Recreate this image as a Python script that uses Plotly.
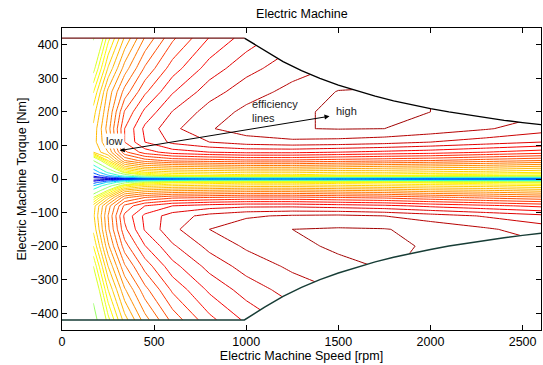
import plotly.graph_objects as go

# ---- data ----
SPEED_RPM = [170, 250, 340, 450, 600, 800, 1000, 1250, 1500, 1750, 2000, 2300, 2600]

TORQUE_MOTOR = [0, 4, 10, 20, 35, 55, 80, 110, 150, 200, 260, 330, 420]
EFF_MOTOR = [
    [0.000, 0.000, 0.000, 0.000, 0.000, 0.000, 0.000, 0.000, 0.000, 0.000, 0.000, 0.000, 0.000],
    [0.050, 0.120, 0.250, 0.330, 0.380, 0.400, 0.410, 0.410, 0.400, 0.390, 0.380, 0.370, 0.360],
    [0.120, 0.280, 0.450, 0.550, 0.590, 0.600, 0.610, 0.610, 0.600, 0.600, 0.590, 0.580, 0.570],
    [0.220, 0.420, 0.580, 0.620, 0.635, 0.640, 0.645, 0.645, 0.640, 0.640, 0.635, 0.630, 0.620],
    [0.350, 0.530, 0.650, 0.680, 0.690, 0.695, 0.700, 0.700, 0.695, 0.690, 0.685, 0.680, 0.670],
    [0.500, 0.620, 0.720, 0.750, 0.765, 0.770, 0.775, 0.775, 0.770, 0.765, 0.760, 0.750, 0.740],
    [0.640, 0.680, 0.775, 0.810, 0.830, 0.840, 0.845, 0.845, 0.840, 0.835, 0.830, 0.820, 0.810],
    [0.650, 0.700, 0.800, 0.840, 0.865, 0.880, 0.890, 0.895, 0.893, 0.888, 0.880, 0.870, 0.860],
    [0.645, 0.710, 0.800, 0.845, 0.875, 0.898, 0.911, 0.919, 0.921, 0.920, 0.913, 0.902, 0.889],
    [0.630, 0.700, 0.782, 0.825, 0.861, 0.889, 0.905, 0.917, 0.923, 0.923, 0.920, 0.912, 0.904],
    [0.598, 0.686, 0.748, 0.796, 0.838, 0.871, 0.891, 0.906, 0.921, 0.922, 0.920, 0.916, 0.911],
    [0.550, 0.642, 0.709, 0.763, 0.810, 0.849, 0.873, 0.892, 0.903, 0.910, 0.913, 0.914, 0.912],
    [0.496, 0.592, 0.663, 0.722, 0.776, 0.821, 0.849, 0.873, 0.888, 0.898, 0.904, 0.908, 0.909],
]

TORQUE_GENERATOR = [-4, -10, -20, -35, -55, -80, -110, -150, -200, -260, -330, -420]
EFF_GENERATOR = [
    [0.060, 0.140, 0.270, 0.340, 0.385, 0.405, 0.410, 0.410, 0.400, 0.390, 0.380, 0.370, 0.360],
    [0.150, 0.320, 0.480, 0.560, 0.595, 0.605, 0.610, 0.610, 0.605, 0.600, 0.590, 0.580, 0.570],
    [0.300, 0.470, 0.600, 0.630, 0.640, 0.645, 0.650, 0.650, 0.645, 0.640, 0.635, 0.630, 0.620],
    [0.440, 0.570, 0.670, 0.690, 0.700, 0.705, 0.710, 0.710, 0.705, 0.700, 0.690, 0.685, 0.675],
    [0.560, 0.650, 0.735, 0.760, 0.775, 0.780, 0.785, 0.785, 0.780, 0.775, 0.765, 0.755, 0.745],
    [0.630, 0.710, 0.785, 0.820, 0.840, 0.850, 0.855, 0.855, 0.850, 0.845, 0.835, 0.825, 0.815],
    [0.635, 0.720, 0.805, 0.845, 0.870, 0.887, 0.897, 0.903, 0.905, 0.900, 0.890, 0.878, 0.866],
    [0.625, 0.715, 0.795, 0.842, 0.875, 0.900, 0.913, 0.920, 0.922, 0.921, 0.914, 0.903, 0.890],
    [0.600, 0.695, 0.771, 0.819, 0.857, 0.886, 0.903, 0.917, 0.922, 0.922, 0.919, 0.912, 0.904],
    [0.560, 0.660, 0.737, 0.788, 0.833, 0.867, 0.888, 0.904, 0.917, 0.921, 0.918, 0.916, 0.911],
    [0.520, 0.620, 0.697, 0.753, 0.804, 0.844, 0.869, 0.889, 0.901, 0.909, 0.912, 0.913, 0.912],
    [0.475, 0.572, 0.650, 0.711, 0.767, 0.814, 0.844, 0.869, 0.885, 0.896, 0.903, 0.907, 0.908],
]

# contour levels: coarse at low efficiency, fine at high efficiency
EFF_LEVELS = [0.05, 0.10, 0.20, 0.30, 0.40, 0.50,
              0.56, 0.58, 0.60, 0.62, 0.64, 0.66, 0.68, 0.70, 0.72, 0.74,
              0.76, 0.78, 0.80, 0.82, 0.84, 0.86, 0.88, 0.90, 0.92]
COLOR_MAX = 0.95  # efficiency mapped to the top of the colormap

# torque envelope (max motoring / max generating torque)
ENV_SPEED = [0, 990, 1100, 1200, 1300, 1400, 1500, 1600, 1700, 1800, 1900, 2000,
             2100, 2200, 2300, 2400, 2500, 2600]
ENV_TMAX = [420, 420, 382, 350, 323, 300, 280, 263, 247, 233, 221, 210,
            200, 191, 183, 175, 168, 162]
ENV_TMIN = [-420, -420, -382, -350, -323, -300, -280, -263, -247, -233, -221, -210,
            -200, -191, -183, -175, -168, -162]

X_TICKS = [0, 500, 1000, 1500, 2000, 2500]
Y_TICKS = [-400, -300, -200, -100, 0, 100, 200, 300, 400]

# ---- build ----
torque_axis = list(reversed(TORQUE_GENERATOR)) + TORQUE_MOTOR
eff_grid = list(reversed(EFF_GENERATOR)) + EFF_MOTOR

# MATLAB-style jet colormap stops
JET = [(0.0, (0, 0, 143)), (0.125, (0, 0, 255)), (0.375, (0, 255, 255)),
       (0.625, (255, 255, 0)), (0.875, (255, 0, 0)), (1.0, (128, 0, 0))]


def jet_color(t):
    t = min(max(t, 0.0), 1.0)
    for (t0, c0), (t1, c1) in zip(JET[:-1], JET[1:]):
        if t <= t1:
            f = (t - t0) / (t1 - t0)
            r, g, b = (round(a + (b_ - a) * f) for a, b_ in zip(c0, c1))
            return f"rgb({r},{g},{b})"
    return "rgb(128,0,0)"


FONT = "Liberation Sans, Arial, Helvetica, sans-serif"
fig = go.Figure()

for lev in EFF_LEVELS:
    col = jet_color(lev / COLOR_MAX)
    fig.add_trace(go.Contour(
        x=SPEED_RPM, y=torque_axis, z=eff_grid,
        autocontour=False,
        contours=dict(coloring="lines", start=lev, end=lev, size=1),
        line=dict(width=1, smoothing=0),
        colorscale=[[0, col], [1, col]],
        showscale=False, hoverinfo="skip",
    ))

# white out region outside the torque envelope
fig.add_trace(go.Scatter(
    x=ENV_SPEED + [2600, 0], y=ENV_TMAX + [460, 460],
    fill="toself", fillcolor="white", mode="none", hoverinfo="skip", showlegend=False))
fig.add_trace(go.Scatter(
    x=ENV_SPEED + [2600, 0], y=ENV_TMIN + [-460, -460],
    fill="toself", fillcolor="white", mode="none", hoverinfo="skip", showlegend=False))

# envelope lines
fig.add_trace(go.Scatter(x=ENV_SPEED[1:], y=ENV_TMAX[1:], mode="lines",
                         line=dict(color="black", width=1.3), hoverinfo="skip", showlegend=False))
fig.add_trace(go.Scatter(x=ENV_SPEED[:2], y=ENV_TMAX[:2], mode="lines",
                         line=dict(color="#6e1212", width=1.3), hoverinfo="skip", showlegend=False))
fig.add_trace(go.Scatter(x=ENV_SPEED, y=ENV_TMIN, mode="lines",
                         line=dict(color="#173d36", width=1.5), hoverinfo="skip", showlegend=False))

ann_font = dict(family=FONT, size=11, color="#222222")
fig.add_annotation(x=1452, y=187, ax=305, ay=84, axref="x", ayref="y", xref="x", yref="y",
                   text="", showarrow=True, arrowside="end+start", arrowhead=2,
                   arrowsize=1, arrowwidth=1, arrowcolor="black")
fig.add_annotation(x=1020, y=203, xref="x", yref="y", text="efficiency<br>lines",
                   showarrow=False, xanchor="left", yanchor="middle", align="left", font=ann_font)
fig.add_annotation(x=1544, y=202, xref="x", yref="y", text="high",
                   showarrow=False, font=ann_font)
fig.add_annotation(x=287, y=112, xref="x", yref="y", text="low",
                   showarrow=False, font=ann_font, bgcolor="white")

axis_common = dict(showline=True, linecolor="black", linewidth=1, mirror="ticks",
                   ticks="inside", ticklen=5, tickcolor="black", showgrid=False,
                   zeroline=False, automargin=False,
                   tickfont=dict(family=FONT, size=12.5, color="black"))

fig.update_layout(
    width=543, height=365,
    margin=dict(l=62, r=2, t=28, b=35),
    paper_bgcolor="white", plot_bgcolor="white",
    font=dict(family=FONT, size=12.5, color="black"),
    title=dict(text="Electric Machine", x=0.556, xanchor="center", y=0.962, yanchor="middle",
               font=dict(family=FONT, size=12.5, color="black")),
    xaxis=dict(range=[0, 2600], tickvals=X_TICKS, **axis_common,
               title=dict(text="Electric Machine Speed [rpm]", standoff=0,
                          font=dict(family=FONT, size=12.5, color="black"))),
    yaxis=dict(range=[-450, 450], tickvals=Y_TICKS, **axis_common,
               title=dict(text="Electric Machine Torque [Nm]", standoff=0,
                          font=dict(family=FONT, size=12.5, color="black"))),
    showlegend=False,
)

fig.write_html("out.html", config={"displayModeBar": False},
               post_script="document.body.style.margin='0px';")
